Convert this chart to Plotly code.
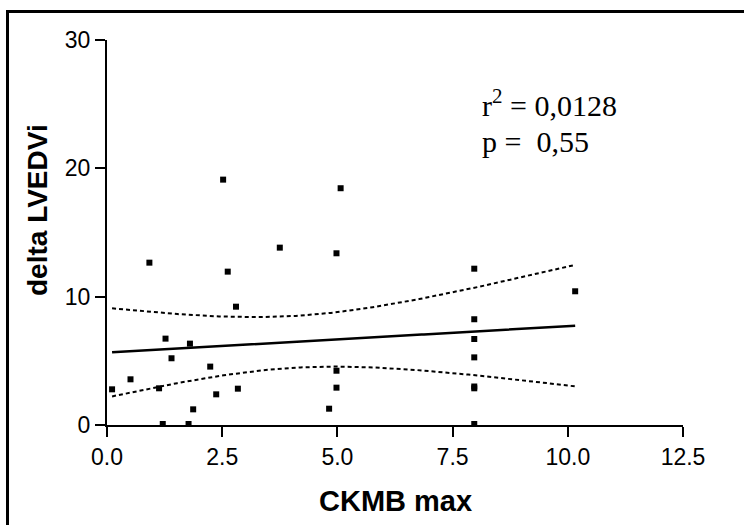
import numpy as np
import plotly.graph_objects as go

# ---- data (one pair of overlapping points at x≈8, y≈3) ----
ckmb_max = [0.11, 0.51, 0.92, 1.13, 1.21, 1.27, 1.40, 1.80, 1.77, 1.87,
            2.24, 2.37, 2.52, 2.62, 2.80, 2.84, 3.75, 4.82, 5.07, 4.98,
            4.98, 4.98, 7.97, 7.97, 7.97, 7.97, 7.97, 7.97, 7.97, 10.16]
delta_lvedvi = [2.78, 3.56, 12.65, 2.86, 0.08, 6.73, 5.20, 6.34, 0.08, 1.22,
                4.55, 2.39, 19.12, 11.95, 9.22, 2.83, 13.82, 1.27, 18.45, 13.38,
                4.23, 2.91, 12.18, 8.24, 6.70, 5.27, 2.86, 3.00, 0.08, 10.42]
x_ticks = [0.0, 2.5, 5.0, 7.5, 10.0, 12.5]
y_ticks = [0, 10, 20, 30]
r2_text = "r<sup>2</sup> = 0,0128"
p_text = "p =  0,55"
T975 = 2.048  # Student t, 95% two-sided, df = 28

x = np.array(ckmb_max)
y = np.array(delta_lvedvi)
n = len(x)
slope, intercept = np.polyfit(x, y, 1)
resid = y - (intercept + slope * x)
s = np.sqrt(np.sum(resid ** 2) / (n - 2))
xbar = x.mean()
sxx = np.sum((x - xbar) ** 2)
xf = np.linspace(x.min(), x.max(), 200)
yf = intercept + slope * xf
se = s * np.sqrt(1.0 / n + (xf - xbar) ** 2 / sxx)
upper = yf + T975 * se
lower = yf - T975 * se

# ---- layout geometry (pixels) ----
W, H = 744, 525
L, T, PW, PH = 107, 40, 576, 385


def px2x(px):
    return (px - L) / PW


def py2y(py):
    return (T + PH - py) / PH


fig = go.Figure()
fig.add_trace(go.Scatter(x=xf, y=upper, mode="lines",
                         line=dict(color="black", width=2, dash="4px,3px"),
                         hoverinfo="skip"))
fig.add_trace(go.Scatter(x=xf, y=lower, mode="lines",
                         line=dict(color="black", width=2, dash="4px,3px"),
                         hoverinfo="skip"))
fig.add_trace(go.Scatter(x=xf, y=yf, mode="lines",
                         line=dict(color="black", width=2.5)))
fig.add_trace(go.Scatter(x=ckmb_max, y=delta_lvedvi, mode="markers",
                         marker=dict(symbol="square", size=6, color="black"),
                         cliponaxis=False))

axis_font = dict(family="Liberation Sans, Arial", size=23, color="black")
fig.update_layout(
    width=W, height=H,
    margin=dict(l=L, r=W - L - PW, t=T, b=H - T - PH),
    paper_bgcolor="white", plot_bgcolor="white",
    showlegend=False,
    xaxis=dict(range=[0, 12.5], tickvals=x_ticks, tickformat=".1f",
               showline=True, linecolor="black", linewidth=2,
               ticks="outside", ticklen=10, tickwidth=2, tickcolor="black",
               showgrid=False, zeroline=False, tickfont=axis_font),
    yaxis=dict(range=[0, 30], tickvals=y_ticks,
               showline=True, linecolor="black", linewidth=2,
               ticks="outside", ticklen=10, tickwidth=2, tickcolor="black",
               showgrid=False, zeroline=False, tickfont=axis_font),
)

title_font = dict(family="Liberation Sans, Arial", size=29, color="black")
fig.add_annotation(text="<b>CKMB max</b>", xref="paper", yref="paper",
                   x=0.5, y=py2y(501), xanchor="center", yanchor="middle",
                   showarrow=False, font=title_font)
fig.add_annotation(text="<b>delta LVEDVi</b>", xref="paper", yref="paper",
                   x=px2x(37), y=py2y(210), xanchor="center", yanchor="middle",
                   textangle=-90, showarrow=False,
                   font=dict(family="Liberation Sans, Arial", size=28, color="black"))

stat_font = dict(family="Liberation Serif, Times New Roman", size=30, color="black")
fig.add_annotation(text=r2_text, xref="paper", yref="paper",
                   x=px2x(480), y=py2y(103), xanchor="left", yanchor="middle",
                   showarrow=False, font=stat_font)
fig.add_annotation(text=p_text, xref="paper", yref="paper",
                   x=px2x(480), y=py2y(141), xanchor="left", yanchor="middle",
                   showarrow=False, font=stat_font)

# outer frame (left and top edges visible)
fig.add_shape(type="line", xref="paper", yref="paper",
              x0=px2x(7.5), x1=px2x(7.5), y0=py2y(10), y1=py2y(540),
              line=dict(color="black", width=3))
fig.add_shape(type="line", xref="paper", yref="paper",
              x0=px2x(6), x1=px2x(760), y0=py2y(11.5), y1=py2y(11.5),
              line=dict(color="black", width=3))

fig.write_html("out.html")
